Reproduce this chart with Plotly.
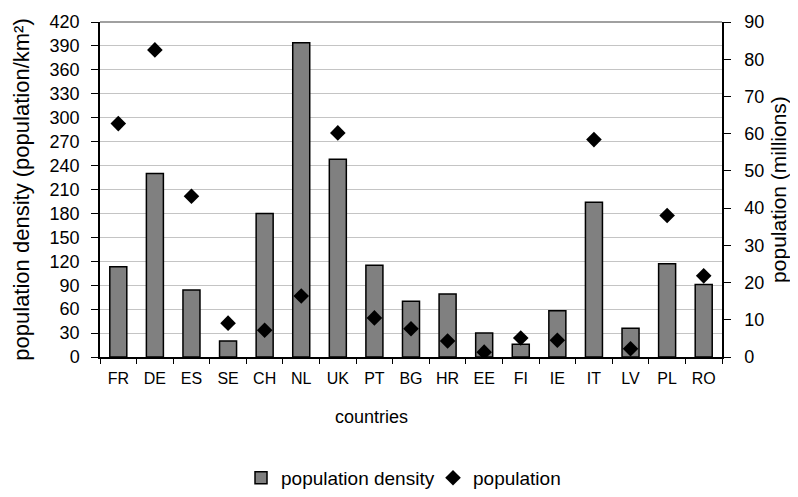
import plotly.graph_objects as go

countries = ["FR", "DE", "ES", "SE", "CH", "NL", "UK", "PT", "BG", "HR",
             "EE", "FI", "IE", "IT", "LV", "PL", "RO"]
density = [113, 230, 84, 20, 180, 394, 248, 115, 70, 79, 30, 16, 58, 194, 36, 117, 91]
population = [62.7, 82.5, 43.2, 9.1, 7.2, 16.4, 60.2, 10.5, 7.6, 4.3, 1.3, 5.1, 4.5,
              58.4, 2.2, 38.0, 21.8]
left_ticks = list(range(0, 421, 30))
right_ticks = list(range(0, 91, 10))

FONT = "Liberation Sans, Arial, sans-serif"
n = len(countries)
boundaries = [i - 0.5 for i in range(n + 1)]

fig = go.Figure()
fig.add_trace(go.Bar(
    x=countries, y=density, name="population density",
    marker=dict(color="#808080", line=dict(color="black", width=1.5)),
    yaxis="y",
))
fig.add_trace(go.Scatter(
    x=countries, y=population, name="population", mode="markers",
    marker=dict(symbol="diamond", size=12, color="black"),
    yaxis="y2",
))

# page body adds an 8px margin, so the figure is 782x481 inside a 798x497 window
fig.update_layout(
    width=782, height=481,
    margin=dict(l=92, r=68, t=14, b=132, autoexpand=False),
    paper_bgcolor="white", plot_bgcolor="white",
    font=dict(family=FONT, color="black"),
    bargap=0.535,
    showlegend=True,
    legend=dict(orientation="h", x=0.2267, xanchor="left", y=-0.361, yanchor="middle",
                font=dict(size=19, family=FONT), itemwidth=30, tracegroupgap=0,
                entrywidth=147, entrywidthmode="pixels",
                bgcolor="rgba(0,0,0,0)"),
    xaxis=dict(
        type="category", range=[-0.5, n - 0.5], tickfont=dict(size=16), showline=True,
        linecolor="black", linewidth=1.5, ticks="outside", ticklen=5, tickcolor="black",
        tickson="boundaries", showgrid=False, ticklabelstandoff=6, automargin=False,
    ),
    xaxis2=dict(
        range=[-0.5, n - 0.5], overlaying="x", anchor="y", side="bottom",
        tickvals=boundaries, ticks="inside", ticklen=5, tickcolor="black",
        showticklabels=False, showgrid=False, zeroline=False, showline=False,
        automargin=False,
    ),
    yaxis=dict(
        range=[0, 420], tickvals=left_ticks, tickfont=dict(size=18),
        showline=True, linecolor="black", linewidth=1.5,
        ticks="outside", ticklen=7, tickcolor="black",
        showgrid=True, gridcolor="#c4c4c4", gridwidth=1, zeroline=False,
        ticklabelstandoff=8, automargin=False,
        title=dict(text="population density (population/km²)", font=dict(size=22), standoff=14),
    ),
    yaxis2=dict(
        range=[0, 90], tickvals=right_ticks, tickfont=dict(size=18),
        overlaying="y", side="right",
        showline=True, linecolor="black", linewidth=1.5,
        ticks="outside", ticklen=7, tickcolor="black",
        showgrid=False, zeroline=False, ticklabelstandoff=10, automargin=False,
        title=dict(text="population (millions)", font=dict(size=21), standoff=17),
    ),
    yaxis3=dict(
        range=[0, 420], tickvals=left_ticks, overlaying="y", side="left", anchor="x",
        ticks="inside", ticklen=6, tickcolor="black", showticklabels=False,
        showgrid=False, zeroline=False, showline=False, automargin=False,
    ),
    yaxis4=dict(
        range=[0, 90], tickvals=right_ticks, overlaying="y", side="right", anchor="x",
        ticks="inside", ticklen=6, tickcolor="black", showticklabels=False,
        showgrid=False, zeroline=False, showline=False, automargin=False,
    ),
    shapes=[dict(type="line", xref="paper", yref="paper", x0=0, x1=1, y0=1, y1=1,
                 line=dict(color="#808080", width=1.5))],
    annotations=[dict(text="countries", xref="paper", yref="paper",
                      x=(363 - 92) / 622, y=-60 / 335,
                      xanchor="center", yanchor="middle", showarrow=False,
                      font=dict(size=18, family=FONT))],
)

fig.write_html("out.html")
